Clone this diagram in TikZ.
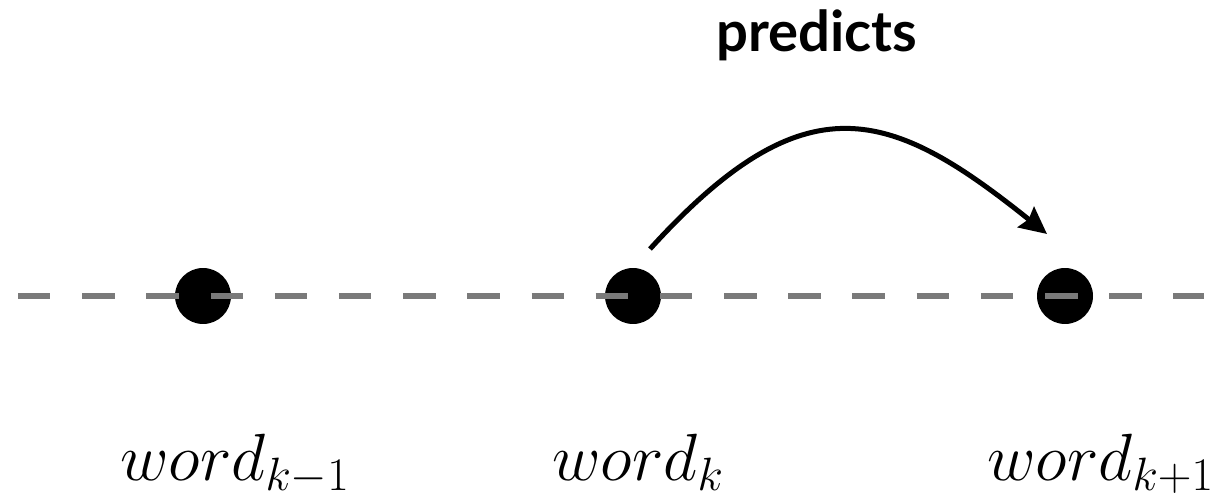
\RequirePackage{fix-cm}
\documentclass[tikz,border=0pt]{standalone}
\usepackage{amsmath}
\usepackage{fontspec}
\setsansfont{Lato}
\usetikzlibrary{arrows.meta,positioning}

\begin{document}
\begin{tikzpicture}[x=0.02cm,y=-0.02cm,>={Stealth[length=0.54cm,width=0.52cm,inset=0.07cm]}, every node/.style={inner sep=0pt}]
\tikzstyle{dot}=[circle,fill=black,minimum size=1.12cm]
\tikzstyle{wordline}=[draw=black!52,line width=0.12cm,dash pattern=on 0.65cm off 0.634cm]
\tikzstyle{wordlbl}=[anchor=base west,font=\fontsize{38}{44}\selectfont]
\useasboundingbox (0,0) rectangle (1230,499);
\node[dot] (wprev) at (203,296) {};
\node[dot] (wk) at (633,296) {};
\node[dot] (wnext) at (1065,296) {};
\coordinate (lineL) at (18,296);
\coordinate (lineR) at (1204,296);
\draw[wordline] (lineL) -- (lineR);
\node[font=\sffamily\bfseries\fontsize{32}{38}\selectfont,anchor=base west] (pred) at (716,52) {predicts};
\coordinate (arcstart) at ([shift={(17,-47)}]wk.center);
\coordinate (arcend) at ([shift={(-18,-62)}]wnext.center);
\draw[->,line width=0.1cm] (arcstart) .. controls +(156,-172) and +(-156,-125) .. (arcend);
\node[wordlbl] (lprev) at (120,480) {$word_{k-1}$};
\node[wordlbl] (lk) at (552,480) {$word_{k}$};
\node[wordlbl] (lnext) at (987,480) {$word_{k+1}$};
\end{tikzpicture}
\end{document}
